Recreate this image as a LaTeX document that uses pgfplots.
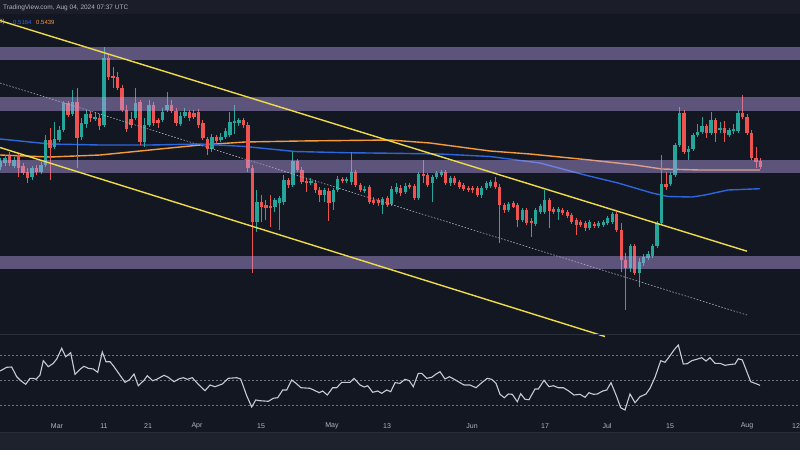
\documentclass[border=0pt]{standalone}
\usepackage{pgfplots}
\pgfplotsset{compat=1.18}
\usepackage{pgfplotstable}
\usepackage{fontspec}
\setmainfont{Liberation Sans}
\definecolor{bg}{HTML}{131722}
\definecolor{topbar}{HTML}{1B1E28}
\definecolor{botbar}{HTML}{1E222D}
\definecolor{upc}{HTML}{26A69A}
\definecolor{dnc}{HTML}{EF5350}
\definecolor{band}{RGB}{186,164,236}
\definecolor{ylw}{HTML}{F0DC4A}
\definecolor{maor}{HTML}{F59B3D}
\definecolor{mabl}{HTML}{2C66DC}
\definecolor{tlc}{HTML}{B2B5BE}
\definecolor{rsic}{HTML}{C5CBD6}
\definecolor{lvl}{HTML}{6E7280}
\definecolor{sep}{HTML}{2A2E39}
\definecolor{dotc}{RGB}{170,175,190}

% daily candles (x = day of year 2024, y = vertical position in the picture, downwards)
\pgfplotstableread{
d o h l c
48 167 158 170 161
49 163 155 166 158
51 166 157 168 160
55 177 166 180 168
57 172 162 174 165
58 165 135 167 140
60 147 122 149 139
61 140 126 142 130
62 130 101 132 103
64 114 90 116 102
66 137 118 140 123
67 124 110 128 114
69 119 112 121 117
71 125 47 127 58
78 118 88 120 103
80 142 118 147 125
81 125 100 127 105
84 120 108 122 112
85 110 92 112 105
88 124 112 126 116
89 116 108 118 112
95 149 134 152 137
97 140 133 142 137
98 137 128 139 131
99 135 112 137 122
100 123 105 134 121
101 123 118 126 120
105 222 190 232 202
109 207 198 212 200
110 203 196 230 198
111 202 175 205 180
113 185 152 187 161
117 183 178 185 181
120 195 188 202 190
122 202 188 210 190
123 190 176 192 179
125 181 177 183 179
126 182 152 185 172
129 191 186 193 189
133 205 197 214 199
135 204 186 206 189
136 192 183 194 187
138 192 183 194 186
141 198 172 200 174
144 183 175 202 177
145 177 171 179 173
146 175 170 177 172
148 183 176 186 178
155 195 186 198 188
156 188 181 190 183
157 186 180 188 182
161 210 202 212 204
164 220 208 222 210
167 224 208 226 210
168 212 204 214 206
169 212 190 214 200
172 212 207 220 209
179 228 220 230 222
181 226 221 228 223
182 225 220 227 222
183 223 216 225 218
184 222 212 224 214
188 268 244 272 246
190 273 258 287 262
191 263 254 266 257
192 258 251 260 254
193 256 244 258 246
194 246 221 248 223
195 223 155 225 184
197 184 172 186 175
198 175 143 177 145
199 145 107 147 113
201 152 146 160 149
202 149 133 151 135
203 135 124 137 132
204 132 117 134 126
206 133 112 135 120
208 130 122 133 128
210 135 128 137 130
211 131 124 134 129
212 131 110 133 113
}\up

\pgfplotstableread{
d o h l c
50 156 152 166 163
52 155 153 177 168
53 166 163 175 173
54 172 168 183 178
56 168 165 175 172
59 140 128 180 148
63 103 101 117 115
65 102 88 168 138
68 114 111 122 118
70 118 114 130 126
72 58 55 80 77
73 76 67 88 78
74 77 72 90 88
75 88 85 112 110
76 110 105 132 129
77 119 112 128 125
79 102 100 145 142
82 105 102 126 123
83 120 118 128 123
86 105 100 113 111
87 111 108 126 123
90 112 110 121 118
91 113 110 119 117
92 112 109 128 125
93 123 120 140 138
94 139 137 155 149
96 137 135 144 141
102 120 118 128 125
103 125 122 172 168
104 168 165 273 222
106 202 195 222 207
107 205 200 220 208
108 206 195 227 208
112 180 178 188 185
114 161 159 172 170
115 170 167 184 182
116 181 178 192 183
118 183 180 193 190
119 190 187 202 195
121 191 188 221 203
124 179 177 183 181
127 172 170 187 185
128 185 183 192 190
130 187 185 204 202
131 200 197 205 203
132 200 198 206 203
134 198 196 207 205
137 188 185 196 193
139 185 183 189 187
140 186 184 200 198
142 174 160 183 176
143 175 173 187 185
147 172 170 185 183
149 178 176 185 183
150 182 180 189 187
151 185 183 191 189
152 188 186 192 190
153 188 186 193 190
154 188 186 197 195
158 182 177 189 187
159 187 184 243 205
160 205 203 213 210
162 203 201 208 207
163 205 203 227 220
165 210 208 225 223
166 221 218 237 223
170 200 198 228 211
171 209 207 214 212
173 210 208 215 213
174 212 210 218 216
175 215 213 224 222
176 220 218 235 225
177 222 220 227 225
178 223 221 231 228
180 224 222 228 226
185 214 212 232 230
186 230 223 272 260
187 260 253 310 268
189 246 244 275 273
196 184 172 190 187
200 113 110 154 152
205 126 124 138 133
207 120 118 142 133
209 128 121 142 133
213 113 95 119 117
214 117 114 135 133
215 133 130 160 158
216 158 147 168 162
217 161 158 169 167
}\dn

% moving averages (picture positions)
\pgfplotstableread{
x y
0 155
50 157
100 155
150 150
200 145
245 142
300 141
390 140
430 143
490 151
530 154
590 160
635 165
662 169
700 170
760 170
}\maor

\pgfplotstableread{
x y
0 139
50 144
100 145
150 145
200 144
245 146.5
295 151.5
345 152.7
395 153.3
440 154
490 156.5
540 163
585 175
618 183
652 193
668 196.5
692 197
705 195
728 190
760 188.7
}\mabl

% RSI (picture positions)
\pgfplotstableread{
x y
0 371
6.7 367.3
11.7 367
16.7 376.7
20.7 380.7
25.7 384.3
30 378.3
33.3 378.3
36 379.3
40 375
43.3 360.7
48.3 366.7
53.3 363.3
56.7 359
61.7 348.3
65.7 356.7
70.7 352.7
75 374.3
80 369.3
84 366.3
88.3 368.3
93.3 369
97.7 372.3
102.3 352
106 361.7
110 361.7
113.3 365.7
125 382.3
129.3 380
134 374
138.3 385.7
144 380.3
147.3 375.7
152.7 380.7
156.7 379.3
164 375.3
168.3 377.3
174 381.7
179.3 378.7
183.3 377.7
187.3 379.3
192.3 377.7
198.3 384.3
205 390.7
210 385
215 386.7
222.3 384
228.3 378.3
236.7 377.7
240.7 379
246.7 395.7
251.7 407
255.7 400
260 400.7
268.3 401.3
273.3 398.3
277.7 397.7
282.7 390
286.7 390
291.7 380
296 383.3
301 387.7
310 388.3
319.3 392.7
322.7 391
327.3 395
332.7 387.7
336.7 387.7
341.7 382.3
350 382.3
354 378.3
360 385
364.3 387
367.7 385.7
372.7 392.3
377.7 391
381.7 393.3
386.7 390
390.7 391.7
395 382.7
400 383.3
405 379.3
409.3 380.7
413.3 386.7
418.3 373.3
421.7 373.3
426.7 378.3
431.7 377.3
435.7 374.3
440 371.7
445 379
449.3 376.7
454.3 379.3
460 382.7
464 385
470 385
476 387.7
481.7 382.7
487.3 378.3
491.7 379.3
496 383.3
500 394.3
504.3 397.7
508.3 394
512.3 394.3
517.3 401.7
520.7 393.7
525 399.3
529 399.7
535 389
538.3 389
544 380.3
549 386.7
553.3 385.7
558.3 387.7
563.3 387.7
568.3 390.7
574 395
580 394.3
585 397.3
589 392.7
593.3 394.3
597.3 394
602.7 391
606.7 390
611 382.7
616.7 396.7
620.7 407.7
625 410
630 394
635 402.7
640 396.7
646 394
650 388.3
655 377.3
660.7 360.7
665 362.3
670 355.7
674 350
678.3 345
683.3 364
687.3 363.7
691.7 360.7
697.7 359
701.7 357.7
706 361
710 357.7
715 363.3
720 363.3
725 365.3
731.7 364.3
735 364
738.3 358.7
742.3 360
750.7 381.7
755 383.3
760 385.3
}\rsi

\pgfplotsset{
  candle/.style 2 args={draw=none, no markers, forget plot,
    error bars/.cd, y dir=both, y explicit, error mark=none,
    error bar style={line width=#1, draw=#2, line cap=butt}},
}

\begin{document}
\begin{tikzpicture}
\begin{axis}[
  scale only axis, width=800pt, height=450pt,
  xmin=0, xmax=800, ymin=0, ymax=450, y dir=reverse,
  axis background/.style={fill=bg},
  axis line style={draw=none}, tick style={draw=none}, major tick length=0pt,
  ytick=\empty,
  xtick={57,104,148,197,261,332,387,472,545,607,670,747,796},
  xticklabels={Mar,11,21,Apr,15,May,13,Jun,17,Jul,15,Aug,12},
  xticklabel style={anchor=center, yshift=24pt, text=tlc, font=\fontsize{7}{8}\selectfont},
]
% moving averages
\addplot[maor, line width=1.4pt] table[x=x, y=y] {\maor};
\addplot[mabl, line width=1.4pt] table[x=x, y=y] {\mabl};

% candles: wicks
\addplot[candle={0.9pt}{upc}]
  table[x expr=104+(\thisrow{d}-71)*4.497, y expr=(\thisrow{h}+\thisrow{l})/2, y error expr=(\thisrow{l}-\thisrow{h})/2] {\up};
\addplot[candle={0.9pt}{dnc}]
  table[x expr=104+(\thisrow{d}-71)*4.497, y expr=(\thisrow{h}+\thisrow{l})/2, y error expr=(\thisrow{l}-\thisrow{h})/2] {\dn};
% candles: bodies
\addplot[candle={3.3pt}{upc}]
  table[x expr=104+(\thisrow{d}-71)*4.497, y expr=(\thisrow{o}+\thisrow{c})/2, y error expr={max(abs(\thisrow{c}-\thisrow{o})/2,0.6)}] {\up};
\addplot[candle={3.3pt}{dnc}]
  table[x expr=104+(\thisrow{d}-71)*4.497, y expr=(\thisrow{o}+\thisrow{c})/2, y error expr={max(abs(\thisrow{c}-\thisrow{o})/2,0.6)}] {\dn};

% horizontal zones
\fill[band, fill opacity=0.44] (axis cs:0,47) rectangle (axis cs:800,60);
\fill[band, fill opacity=0.44] (axis cs:0,97) rectangle (axis cs:800,111);
\fill[band, fill opacity=0.44] (axis cs:0,160) rectangle (axis cs:800,173);
\fill[band, fill opacity=0.44] (axis cs:0,256) rectangle (axis cs:800,269);

% channel lines
\addplot[dotc, line width=0.6pt, dash pattern=on 1.6pt off 1.6pt] coordinates {(0,83) (747,315)};
\addplot[ylw, line width=1.4pt] coordinates {(-10,17.5) (747,251.2)};
\addplot[ylw, line width=1.4pt] coordinates {(0,147.5) (605,336.5)};

% RSI pane
\draw[sep, line width=1pt] (axis cs:0,334) -- (axis cs:800,334);
\addplot[lvl, line width=0.5pt, dash pattern=on 2pt off 2pt] coordinates {(0,355) (800,355)};
\addplot[lvl, line width=0.5pt, dash pattern=on 2pt off 2pt] coordinates {(0,380.3) (800,380.3)};
\addplot[lvl, line width=0.5pt, dash pattern=on 2pt off 2pt] coordinates {(0,405.3) (800,405.3)};
\addplot[rsic, line width=1.1pt] table[x=x, y=y] {\rsi};

% frame strips
\fill[topbar] (axis cs:0,0) rectangle (axis cs:800,14);
\fill[botbar] (axis cs:0,432) rectangle (axis cs:800,450);
\draw[sep, line width=0.8pt] (axis cs:0,432) -- (axis cs:800,432);
\node[anchor=west, inner sep=0pt, text=tlc, font=\fontsize{6.5}{7.5}\selectfont] at (axis cs:3,7.5) {TradingView.com, Aug 04, 2024 07:37 UTC};
\node[anchor=west, inner sep=0pt, text=tlc, font=\fontsize{6}{7}\selectfont] at (axis cs:-1,22) {0)};
\node[anchor=west, inner sep=0pt, text=mabl, font=\fontsize{6}{7}\selectfont] at (axis cs:13,22) {0.5164};
\node[anchor=west, inner sep=0pt, text=maor, font=\fontsize{6}{7}\selectfont] at (axis cs:36,22) {0.5439};
\end{axis}
\pgfresetboundingbox
\useasboundingbox (current axis.south west) rectangle (current axis.north east);
\end{tikzpicture}
\end{document}
